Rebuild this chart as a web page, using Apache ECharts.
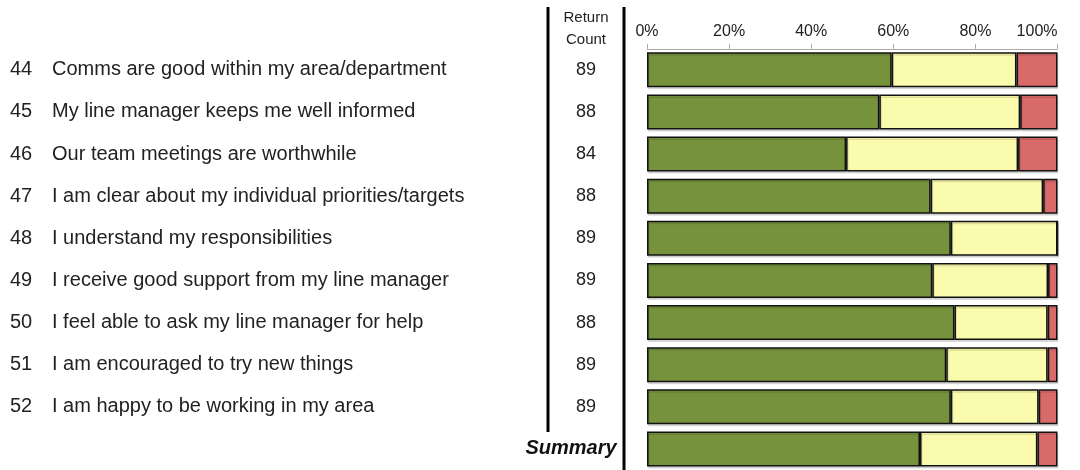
<!DOCTYPE html>
<html lang="en">

<head>
  <meta charset="UTF-8">
  <title>Survey results</title>
  <script src="https://cdn.jsdelivr.net/npm/echarts@6/dist/echarts.min.js"></script>
  <style>
    html,
    body {
      height: 100%;
      margin: 0;
      padding: 0;
      background-color: #fff;
    }

    #chart {
      width: 1080px;
      height: 470px;
    }
  </style>
</head>

<body>
  <div id="chart"></div>
  <script>
    const questionNums = ['44', '45', '46', '47', '48', '49', '50', '51', '52', ''];
    const questions = [
      'Comms are good within my area/department',
      'My line manager keeps me well informed',
      'Our team meetings are worthwhile',
      'I am clear about my individual priorities/targets',
      'I understand my responsibilities',
      'I receive good support from my line manager',
      'I feel able to ask my line manager for help',
      'I am encouraged to try new things',
      'I am happy to be working in my area',
      ''
    ];
    const returnCounts = ['89', '88', '84', '88', '89', '89', '88', '89', '89', 'Summary'];

    // percentages per row
    const agree = [59.6, 56.6, 48.5, 69.1, 74.0, 69.5, 74.9, 72.9, 74.0, 66.5];
    const neutral = [30.4, 34.3, 41.9, 27.4, 26.0, 28.2, 22.7, 24.7, 21.4, 28.6];
    const disagree = [10.0, 9.1, 9.6, 3.5, 0, 2.3, 2.4, 2.4, 4.6, 4.9];

    const font = 'Arial, "Liberation Sans", sans-serif';
    const cats = questionNums.map((n, i) => 'r' + i);

    const barStyle = color => ({
      color: color,
      borderColor: '#111',
      borderWidth: 1.5,
      shadowColor: 'rgba(0,0,0,0.12)',
      shadowOffsetY: 2,
      shadowOffsetX: 1,
      shadowBlur: 0
    });

    const chart = echarts.init(document.getElementById('chart'));
    chart.setOption({
      animation: false,
      textStyle: { fontFamily: font },
      grid: { left: 647, right: 22.5, top: 48.75, height: 425, containLabel: false },
      xAxis: {
        type: 'value',
        position: 'top',
        min: 0,
        max: 100,
        interval: 20,
        axisLine: { show: true, lineStyle: { color: '#aaa', width: 1 } },
        axisTick: { show: true, length: 5, lineStyle: { color: '#aaa' } },
        splitLine: { show: false },
        axisLabel: {
          formatter: '{value}%',
          color: '#222',
          fontSize: 16,
          margin: 9,
          fontFamily: font,
          alignMaxLabel: 'right'
        }
      },
      yAxis: [
        {
          type: 'category',
          inverse: true,
          data: cats,
          axisLine: { show: false },
          axisTick: { show: false },
          axisLabel: {
            align: 'left',
            margin: 637,
            formatter: (v, i) => i < 9 ? '{n|' + questionNums[i] + '}{t|' + questions[i] + '}' : '',
            rich: {
              n: { width: 42, fontSize: 20, color: '#222', fontFamily: font },
              t: { fontSize: 20, color: '#222', fontFamily: font }
            }
          }
        },
        {
          type: 'category',
          inverse: true,
          position: 'left',
          data: returnCounts,
          axisLine: { show: false },
          axisTick: { show: false },
          axisLabel: {
            align: 'center',
            margin: 61,
            formatter: (v, i) => i < 9 ? '{c|' + v + '}' : '{s|' + v + '}',
            rich: {
              c: { fontSize: 18, color: '#222', fontFamily: font },
              s: {
                fontSize: 20, fontWeight: 'bold', fontStyle: 'italic', color: '#111',
                fontFamily: font, padding: [0, 30, 0, 0]
              }
            }
          }
        }
      ],
      series: [
        { name: 'Agree', type: 'bar', stack: 'all', barWidth: 35, data: agree, itemStyle: barStyle('#76923c') },
        { name: 'Neutral', type: 'bar', stack: 'all', barWidth: 35, data: neutral, itemStyle: barStyle('#fbfbad') },
        { name: 'Disagree', type: 'bar', stack: 'all', barWidth: 35, data: disagree, itemStyle: barStyle('#d86a6a') }
      ],
      graphic: [
        { type: 'line', shape: { x1: 548, y1: 7, x2: 548, y2: 432 }, style: { stroke: '#000', lineWidth: 3 } },
        { type: 'line', shape: { x1: 624, y1: 7, x2: 624, y2: 470 }, style: { stroke: '#000', lineWidth: 3 } },
        {
          type: 'text', x: 586, y: 18,
          style: { text: 'Return', fontSize: 15, fill: '#222', fontFamily: font, textAlign: 'center', textVerticalAlign: 'middle' }
        },
        {
          type: 'text', x: 586, y: 40,
          style: { text: 'Count', fontSize: 15, fill: '#222', fontFamily: font, textAlign: 'center', textVerticalAlign: 'middle' }
        }
      ]
    });
  </script>
</body>

</html>
